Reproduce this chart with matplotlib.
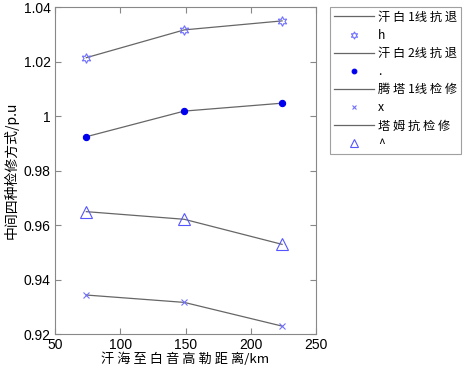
import matplotlib
matplotlib.use('Agg')
import matplotlib.pyplot as plt

plt.rcParams['font.family'] = ['Liberation Sans', 'Noto Sans CJK SC', 'DejaVu Sans']

# 数据
distance = [74, 149, 224]
names = ['汗 白 1线 抗 退', '汗 白 2线 抗 退', '腾 塔 1线 检 修', '塔 姆 抗 检 修']
codes = ['h', '.', 'x', '^']
values = [
    [1.0214, 1.0316, 1.0349],
    [0.9924, 1.0018, 1.0047],
    [0.9343, 0.9316, 0.9229],
    [0.9649, 0.9621, 0.9529],
]

markers = [(6, 1, 0), 'o', 'x', '^']
msizes = [7, 4.5, 4, 8]
mcolors = ['#6f6fff', '#0000ee', '#7070ff', '#5555ff']
fills = ['none', '#0000ee', 'none', 'none']

fig = plt.figure(figsize=(4.72, 3.68), dpi=100)
ax = fig.add_axes([55 / 472, 34 / 368, 261 / 472, 327 / 368])

for name, code, vals, mk, ms, mc, fc in zip(names, codes, values, markers, msizes, mcolors, fills):
    ax.plot(distance, vals, color='#666666', linewidth=0.9, label=name)
    ax.plot(distance, vals, linestyle='none', marker=mk, markersize=ms,
            markeredgecolor=mc, markerfacecolor=fc, markeredgewidth=0.8, label=code)

ax.set_xlim(50, 250)
ax.set_ylim(0.92, 1.04)
ax.set_xticks([50, 100, 150, 200, 250])
ax.set_yticks([0.92, 0.94, 0.96, 0.98, 1.0, 1.02, 1.04])
ax.set_yticklabels(['0.92', '0.94', '0.96', '0.98', '1', '1.02', '1.04'])
ax.tick_params(direction='in', top=True, right=True, labelsize=10, length=4,
               color='#888888', pad=3)
for sp in ax.spines.values():
    sp.set_color('#888888')
    sp.set_linewidth(0.8)

ax.set_xlabel('汗 海 至 白 音 高 勒 距 离/km', fontsize=9.5, labelpad=0,
              family=['Noto Sans CJK SC', 'Liberation Sans'])
ax.set_ylabel('中间四种检修方式/p.u', fontsize=10, labelpad=4,
              family=['Noto Sans CJK SC', 'Liberation Sans'])

leg = ax.legend(loc='upper left', bbox_to_anchor=(330 / 472, 1 - 7 / 368),
                bbox_transform=fig.transFigure, frameon=True,
                fancybox=False, edgecolor='#888888', handlelength=3.3,
                borderpad=0.3, labelspacing=0.42, handletextpad=0.35,
                borderaxespad=0, markerscale=0.75,
                prop={'family': ['Noto Sans CJK SC', 'Liberation Sans'], 'size': 8.8})
leg.get_frame().set_linewidth(0.8)

fig.savefig('out.png', dpi=100, facecolor='white')
